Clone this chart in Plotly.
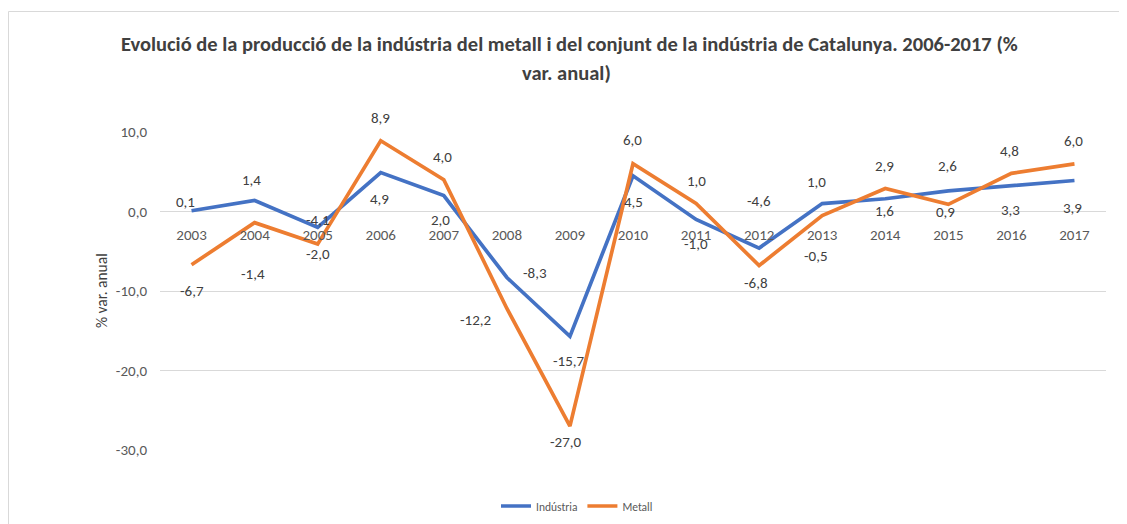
import plotly.graph_objects as go

years = ["2003", "2004", "2005", "2006", "2007", "2008", "2009", "2010",
         "2011", "2012", "2013", "2014", "2015", "2016", "2017"]
industria = [0.1, 1.4, -2.0, 4.9, 2.0, -8.3, -15.7, 4.5, -1.0, -4.6, 1.0, 1.6, 2.6, 3.3, 3.9]
metall = [-6.7, -1.4, -4.1, 8.9, 4.0, -12.2, -27.0, 6.0, 1.0, -6.8, -0.5, 2.9, 0.9, 4.8, 6.0]

y_ticks = [10, 0, -10, -20, -30]
y_ticktext = ["10,0", "0,0", "-10,0", "-20,0", "-30,0"]

title_line1 = "Evolució de la producció de la indústria del metall i del conjunt de la indústria de Catalunya. 2006-2017 (%"
title_line2 = "var. anual)"

# label offsets in pixels (dx right, dy down) relative to each point
ind_off = [(-6, -9), (-3, -20), (0, 27), (-1, 26), (-3, 24), (28, -4), (-1, 25), (0, 26),
           (0, 25), (0, -47), (-6, -22), (-1, 12), (-1, -25), (-1, 25), (-2, 27)]
met_off = [(0, 26), (-2, 51), (0, -24), (0, -23), (-1, -23), (-31, 12), (-4, 16), (-1, -24),
           (0, -23), (-3, 17), (-6, 41), (-1, -22), (-3, 8), (-2, -22), (-1, -23)]

BLUE = "#4472C4"
ORANGE = "#ED7D31"
FONT = "Carlito, Lato, sans-serif"

# page has an 8px body margin: work in reference pixel coords, shifted
OFF = 8
W, H = 1127 - OFF, 524 - OFF
PL, PR, PT, PB = 160, 1106, 132, 450          # plot area in reference pixels
L, R, T, B = PL - OFF, 1127 - PR, PT - OFF, 524 - PB
pw, ph = W - L - R, H - T - B


def px(x):
    return (x - PL) / pw


def py(y):
    return (PB - y) / ph


fig = go.Figure()
fig.add_trace(go.Scatter(x=years, y=industria, mode="lines", name="Indústria",
                         line=dict(color=BLUE, width=3.7), hoverinfo="skip"))
fig.add_trace(go.Scatter(x=years, y=metall, mode="lines", name="Metall",
                         line=dict(color=ORANGE, width=3.7), hoverinfo="skip"))


def fmt(v):
    return f"{v:.1f}".replace(".", ",")


annotations = []
for vals, offs in ((industria, ind_off), (metall, met_off)):
    for i, (v, (dx, dy)) in enumerate(zip(vals, offs)):
        annotations.append(dict(x=i, y=v, xref="x", yref="y", text=fmt(v),
                                showarrow=False, xshift=dx, yshift=-dy,
                                xanchor="center", yanchor="middle",
                                font=dict(family=FONT, size=15, color="#404040")))

annotations.append(dict(x=px(569), y=py(44), xref="paper", yref="paper",
                        text="<b>" + title_line1 + "</b>", showarrow=False,
                        xanchor="center", yanchor="middle",
                        font=dict(family=FONT, size=20.5, color="#404040")))
annotations.append(dict(x=px(566), y=py(73), xref="paper", yref="paper",
                        text="<b>" + title_line2 + "</b>", showarrow=False,
                        xanchor="center", yanchor="middle",
                        font=dict(family=FONT, size=20.5, color="#404040")))
annotations.append(dict(x=px(101), y=py(291), xref="paper", yref="paper",
                        text="% var. anual", showarrow=False, textangle=-90,
                        xanchor="center", yanchor="middle",
                        font=dict(family=FONT, size=15.5, color="#404040")))

shapes = [
    dict(type="line", xref="paper", yref="paper", x0=px(OFF + 0.5), x1=px(1130), y0=py(11.5), y1=py(11.5),
         line=dict(color="#D9D9D9", width=1)),
    dict(type="line", xref="paper", yref="paper", x0=px(OFF + 0.5), x1=px(OFF + 0.5), y0=py(11.5), y1=py(530),
         line=dict(color="#D9D9D9", width=1)),
]

fig.update_layout(
    width=W, height=H,
    margin=dict(l=L, r=R, t=T, b=B, autoexpand=False),
    paper_bgcolor="white", plot_bgcolor="white",
    font=dict(family=FONT, color="#595959"),
    annotations=annotations,
    shapes=shapes,
    showlegend=True,
    legend=dict(orientation="h", x=px(577), y=py(506), xanchor="center", yanchor="middle",
                font=dict(family=FONT, size=11.5, color="#595959")),
    xaxis=dict(type="category", range=[-0.5, 14.5], anchor="free", position=0.75,
               showgrid=False, showline=False, ticks="", ticklabelstandoff=12,
               tickfont=dict(family=FONT, size=15, color="#595959"), zeroline=False),
    yaxis=dict(range=[-30, 10], tickvals=y_ticks, ticktext=y_ticktext,
               showgrid=True, gridcolor="#D9D9D9", gridwidth=1,
               zeroline=True, zerolinecolor="#D9D9D9", zerolinewidth=1,
               showline=False, ticks="", ticklabelstandoff=12,
               tickfont=dict(family=FONT, size=15, color="#595959")),
)

fig.write_html("out.html")
